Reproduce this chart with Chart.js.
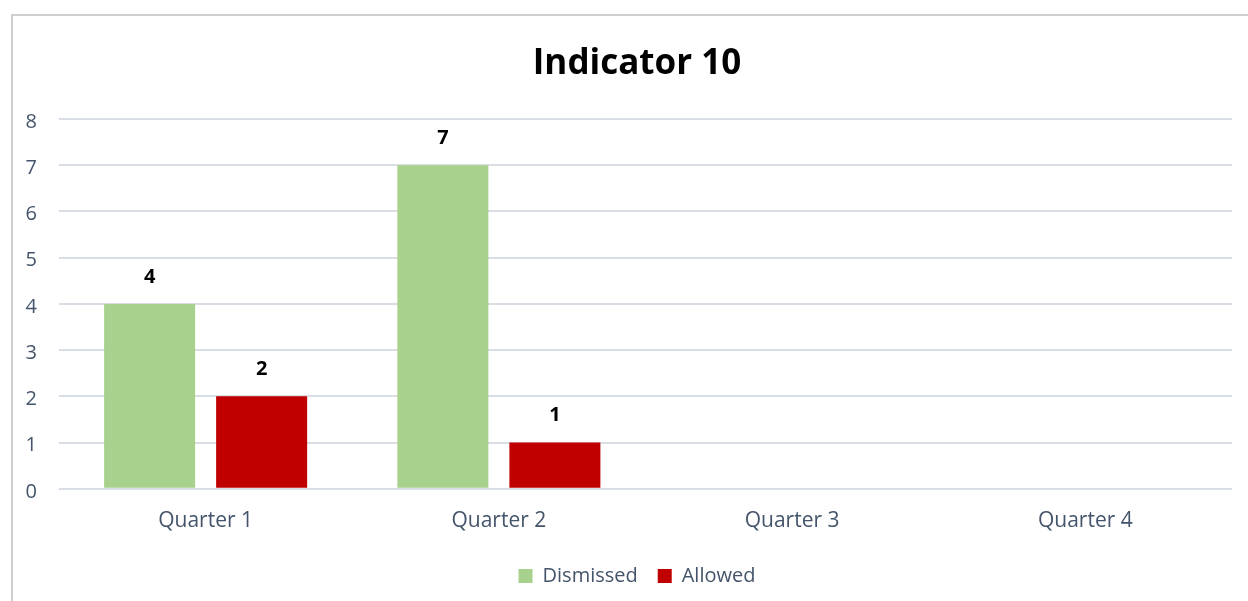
<!DOCTYPE html>
<html>
<head>
<meta charset="utf-8">
<script src="https://cdn.jsdelivr.net/npm/chart.js@4/dist/chart.umd.min.js"></script>
<style>
  html, body { margin: 0; padding: 0; background: #fff; overflow: hidden; }
  #wrap { position: absolute; left: 0; top: 0; width: 1248px; height: 601px; overflow: hidden; }
  #frame { position: absolute; left: 11px; top: 14px; width: 1260px; height: 620px; border: 2px solid #cfcfcf; box-sizing: border-box; }
  canvas { position: absolute; left: 0; top: 0; }
</style>
</head>
<body>
<div id="wrap">
  <div id="frame"></div>
  <canvas id="chart" width="1274" height="601"></canvas>
</div>
<script>
let quarters = ['Quarter 1', 'Quarter 2', 'Quarter 3', 'Quarter 4']
let dismissed = [4, 7, null, null]
let allowed = [2, 1, null, null]
let yTicks = [0, 1, 2, 3, 4, 5, 6, 7, 8]

let textColor = '#44546a'
let fontFamily = "'Open Sans', 'Noto Sans', sans-serif"

// numbers above the bars
let barLabels = {
    id: 'barLabels',
    afterDatasetsDraw(chart) {
        let ctx = chart.ctx
        ctx.save()
        ctx.font = 'bold 20px ' + fontFamily
        ctx.fillStyle = '#000'
        ctx.textAlign = 'center'
        ctx.textBaseline = 'middle'
        chart.data.datasets.forEach((ds, i) => {
            chart.getDatasetMeta(i).data.forEach((bar, j) => {
                if (ds.data[j] == null) return
                ctx.fillText(ds.data[j], bar.x, bar.y - 27)
            })
        })
        ctx.restore()
    }
}

new Chart(document.getElementById('chart'), {
    type: 'bar',
    data: {
        labels: quarters,
        datasets: [
            { label: 'Dismissed', data: dismissed, backgroundColor: '#a9d18e' },
            { label: 'Allowed', data: allowed, backgroundColor: '#c00000' }
        ]
    },
    options: {
        responsive: false,
        animation: false,
        layout: { padding: { left: 0, right: 0, top: 0, bottom: 5 } },
        datasets: { bar: { categoryPercentage: 0.764, barPercentage: 0.8125 } },
        plugins: {
            title: {
                display: true,
                text: 'Indicator 10',
                color: '#000',
                font: { family: fontFamily, size: 35, weight: 'bold' },
                padding: { top: 43, bottom: 34 }
            },
            legend: {
                position: 'bottom',
                labels: {
                    color: textColor,
                    font: { family: fontFamily, size: 20 },
                    boxWidth: 14,
                    boxHeight: 14,
                    padding: 20
                }
            },
            tooltip: { enabled: false }
        },
        scales: {
            x: {
                grid: { display: false },
                border: { display: false },
                ticks: { color: textColor, font: { family: fontFamily, size: 21 }, padding: 12 }
            },
            y: {
                min: 0,
                max: 8,
                afterBuildTicks(axis) { axis.ticks = yTicks.map(v => ({ value: v })) },
                afterFit(axis) { axis.width = 59 },
                grid: { color: '#d9dde4', lineWidth: 2, drawTicks: false },
                border: { display: false },
                ticks: { color: textColor, font: { family: fontFamily, size: 20 }, padding: 22, labelOffset: 3 }
            },
            // empty space on the right so the plot ends before the frame does
            spacer: {
                position: 'right',
                afterFit(axis) { axis.width = 42 },
                grid: { display: false },
                border: { display: false },
                ticks: { display: false }
            }
        }
    },
    plugins: [barLabels]
})
</script>
</body>
</html>
